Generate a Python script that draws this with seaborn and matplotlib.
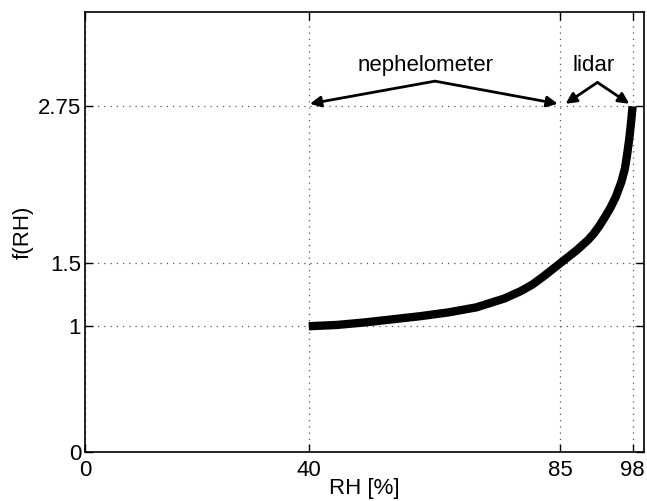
import matplotlib

matplotlib.use("Agg")
import matplotlib.pyplot as plt
import pandas as pd
import seaborn as sns

# values
rh = [40, 45, 50, 55, 60, 65, 70, 75, 78, 80, 82, 84, 85, 86, 88, 90, 91, 92,
      93, 94, 95, 96, 96.6, 97, 97.4, 97.7, 98]
f_rh = [1.00, 1.01, 1.03, 1.055, 1.08, 1.11, 1.15, 1.22, 1.28, 1.33, 1.395, 1.465,
        1.50, 1.535, 1.605, 1.685, 1.735, 1.795, 1.865, 1.94, 2.03, 2.15, 2.25,
        2.36, 2.49, 2.61, 2.75]

x_ticks = [0, 40, 85, 98]
y_ticks = [0, 1, 1.5, 2.75]
y_tick_labels = ["0", "1", "1.5", "2.75"]

sns.set_theme(style="ticks")
plt.rcParams["font.family"] = ["Liberation Sans", "DejaVu Sans"]
plt.rcParams["text.color"] = "black"
plt.rcParams["axes.labelcolor"] = "black"

df = pd.DataFrame({"RH": rh, "f": f_rh})

fig = plt.figure(figsize=(6.47, 5.01), dpi=100)
ax = fig.add_axes([0.132, 0.098, 0.863, 0.878])

sns.lineplot(data=df, x="RH", y="f", ax=ax, color="black", linewidth=6,
             solid_capstyle="butt", solid_joinstyle="round", zorder=3)

ax.set_xlim(0, 100)
ax.set_ylim(0, 3.5)
ax.set_xticks(x_ticks)
ax.set_yticks(y_ticks)
ax.set_yticklabels(y_tick_labels)
ax.tick_params(direction="in", length=6, width=1, labelsize=16, colors="black",
               top=True, right=True)
ax.tick_params(axis="x", pad=6)
ax.tick_params(axis="y", pad=3)
ax.grid(True, linestyle=(0, (1, 4)), color="#555555", linewidth=0.9)
for sp in ax.spines.values():
    sp.set_visible(True)
    sp.set_color("black")
    sp.set_linewidth(1.2)

ax.set_xlabel("RH [%]", fontsize=16, labelpad=-2)
ax.set_ylabel("f(RH)", fontsize=16, labelpad=3)

arrow = dict(arrowstyle="-|>", color="black", lw=2, mutation_scale=16,
             shrinkA=0, shrinkB=0)
ax.text(61.0, 3.03, "nephelometer", ha="center", va="baseline", fontsize=16)
for tip in [40.2, 84.6]:
    ax.annotate("", xy=(tip, 2.77), xytext=(62.6, 2.95), arrowprops=arrow)
ax.text(91.0, 3.03, "lidar", ha="center", va="baseline", fontsize=16)
for tip in [86.0, 97.4]:
    ax.annotate("", xy=(tip, 2.77), xytext=(91.7, 2.94), arrowprops=arrow)

fig.savefig("out.png", dpi=100)
